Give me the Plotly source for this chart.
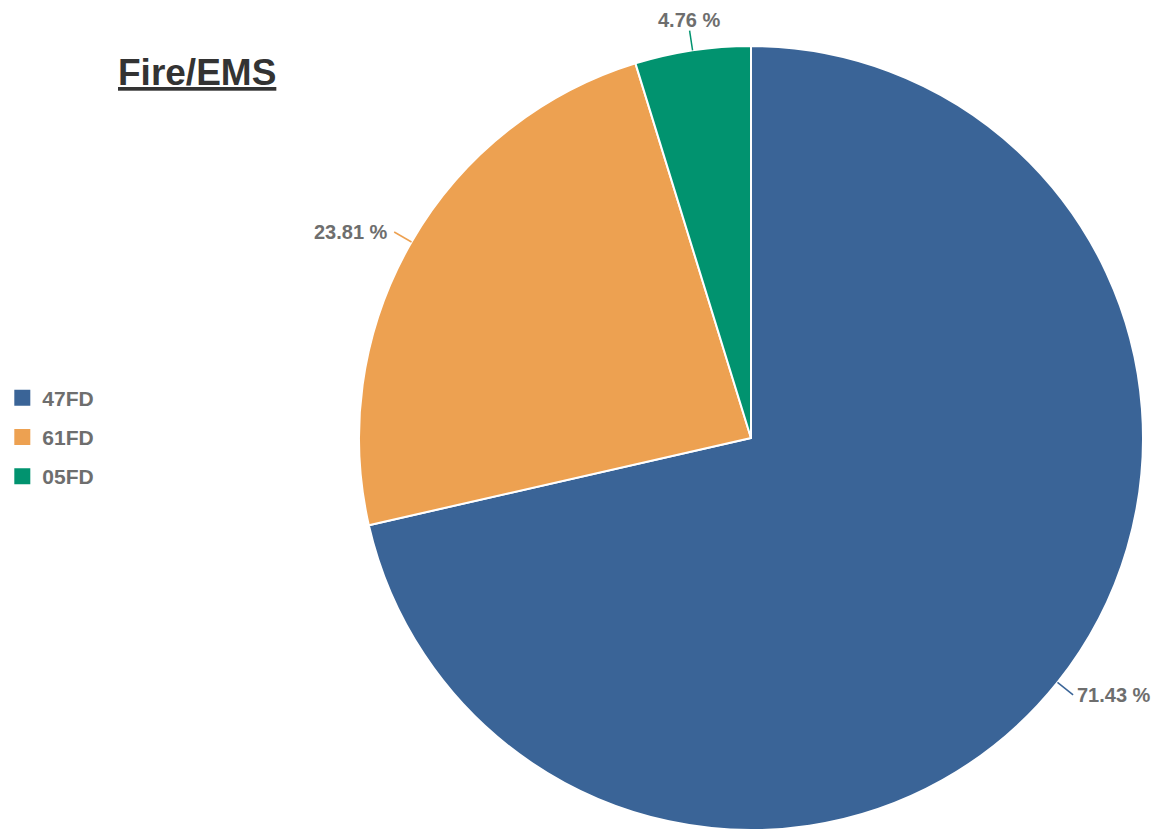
import math
import plotly.graph_objects as go

labels = ["47FD", "61FD", "05FD"]
values = [15, 5, 1]
colors = ["#3A6497", "#EDA151", "#01936F"]
title_text = "Fire/EMS"

W, H = 1153, 831
CX, CY, R = 751, 438, 392
LEAD = 20
TEXT_COLOR = "#6E6E6E"
FONT = "Liberation Sans, Arial, sans-serif"

fig = go.Figure()
fig.add_trace(go.Pie(
    labels=labels, values=values, sort=False, direction="clockwise", rotation=0,
    marker=dict(colors=colors, line=dict(color="white", width=2)),
    textinfo="none", showlegend=False, hoverinfo="label+percent",
    domain=dict(x=[(CX - R) / W, (CX + R) / W], y=[max(0, 1 - (CY + R) / H), 1 - (CY - R) / H]),
))

for lab, col in zip(labels, colors):
    fig.add_trace(go.Scatter(
        x=[None], y=[None], mode="markers", name=lab, legendgroup=lab,
        marker=dict(symbol="square", size=18, color=col),
    ))

def px2paper(x, y):
    return x / W, 1 - y / H

total = sum(values)
cum = 0
for v, col in zip(values, colors):
    mid = (cum + v / 2) / total * 2 * math.pi
    cum += v
    s, c = math.sin(mid), math.cos(mid)
    x0, y0 = CX + R * s, CY - R * c
    x1, y1 = CX + (R + LEAD) * s, CY - (R + LEAD) * c
    a0 = px2paper(x0, y0)
    a1 = px2paper(x1, y1)
    fig.add_shape(type="line", xref="paper", yref="paper",
                  x0=a0[0], y0=a0[1], x1=a1[0], y1=a1[1],
                  line=dict(color=col, width=1.5))
    pct = f"{v / total * 100:.2f} %"
    if s > 0.3:
        xa, ya, xs, ys = "left", "middle", 2, 0
    elif s < -0.3:
        xa, ya, xs, ys = "right", "middle", -4, 0
    else:
        xa, ya, xs, ys = "center", "bottom", -1, -2
    fig.add_annotation(x=a1[0], y=a1[1], xref="paper", yref="paper",
                       text=f"<b>{pct}</b>", showarrow=False,
                       xanchor=xa, yanchor=ya, xshift=xs, yshift=ys,
                       font=dict(family=FONT, size=20, color=TEXT_COLOR))

fig.add_annotation(x=197 / W, y=1 - 72 / H, xref="paper", yref="paper",
                   text=f"<b><u>{title_text}</u></b>", showarrow=False,
                   xanchor="center", yanchor="middle",
                   font=dict(family=FONT, size=37, color="#333333"))

fig.update_layout(
    width=W, height=H, margin=dict(l=0, r=0, t=0, b=0),
    paper_bgcolor="white", plot_bgcolor="white",
    xaxis=dict(visible=False), yaxis=dict(visible=False),
    legend=dict(x=0.002, y=1 - 437 / H, xanchor="left", yanchor="middle",
                font=dict(family=FONT, size=21, color=TEXT_COLOR, weight="bold"),
                tracegroupgap=9, bgcolor="rgba(0,0,0,0)"),
)

fig.write_html(
    "out.html",
    config={"displayModeBar": False},
    post_script="document.body.style.margin='0';document.body.style.overflow='hidden';",
)
